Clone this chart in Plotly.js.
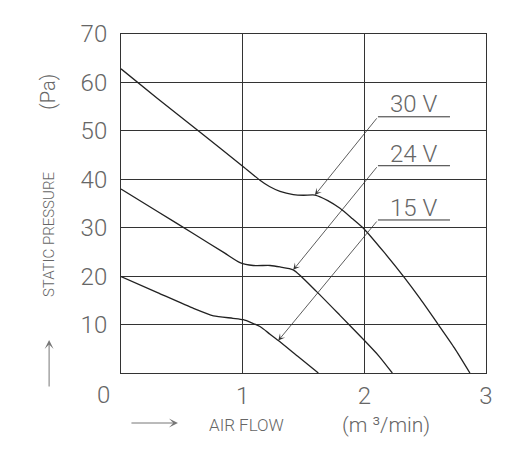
<!DOCTYPE html>
<html>
<head>
<meta charset="utf-8">
<script src="https://cdn.plot.ly/plotly-3.0.1.min.js"></script>
<style>
  html, body { margin: 0; padding: 0; background: #fff; }
  #chart { width: 532px; height: 450px; }
</style>
</head>
<body>
<div id="chart"></div>
<script>
// Fan performance curves: static pressure (Pa) against air flow (m³/min)
const flow30 = [0, 0.3, 0.635, 1.005, 1.142, 1.22, 1.307, 1.416, 1.5, 1.594, 1.7, 1.8, 1.9, 2.0, 2.16, 2.32, 2.46, 2.608, 2.74, 2.868];
const pres30 = [62.8, 56.7, 50.0, 42.6, 39.8, 38.5, 37.5, 36.85, 36.7, 36.75, 35.6, 34.0, 31.9, 29.7, 25.0, 20.0, 15.3, 10.0, 5.2, 0];

const flow24 = [0, 0.3, 0.6, 0.85, 0.978, 1.087, 1.225, 1.307, 1.416, 1.608, 1.8, 2.005, 2.12, 2.23];
const pres24 = [38.0, 33.35, 28.7, 24.8, 22.8, 22.2, 22.2, 21.9, 21.3, 16.8, 11.9, 6.6, 3.5, 0];

const flow15 = [0, 0.3, 0.6, 0.76, 0.92, 1.005, 1.142, 1.225, 1.293, 1.45, 1.622];
const pres15 = [19.9, 16.6, 13.3, 11.8, 11.3, 11.0, 9.6, 8.0, 6.7, 3.5, 0];

const xTickVals = [1, 2, 3];
const yTickVals = [10, 20, 30, 40, 50, 60, 70];

const voltLabels = ['30 V', '24 V', '15 V'];
// index of the curve point each leader arrow points at
const series = [
  { x: flow30, y: pres30, tip: 9 },
  { x: flow24, y: pres24, tip: 8 },
  { x: flow15, y: pres15, tip: 8 }
];

const lineColor = '#222';
const gridColor = '#333';
const textColor = '#666';
const thinFont = 'Roboto, "Open Sans", sans-serif';

const traces = series.map((s, i) => ({
  x: s.x, y: s.y,
  type: 'scatter', mode: 'lines',
  line: { color: lineColor, width: 1.3, shape: 'spline', smoothing: 0.6 },
  name: voltLabels[i],
  hoverinfo: 'skip'
}));

// leader geometry (data units): elbow position, underline end, label text position
const elbowX = 2.112, lineEndX = 2.704, labelX = 2.408;
const elbowY = [52.9, 42.8, 31.6];
const labelY = [55.5, 45.2, 34.1];

const annotations = [];
const shapes = [];
series.forEach((s, i) => {
  annotations.push({
    x: s.x[s.tip], y: s.y[s.tip], xref: 'x', yref: 'y',
    ax: elbowX, ay: elbowY[i], axref: 'x', ayref: 'y',
    text: '', showarrow: true, arrowhead: 3, arrowsize: 1.4, arrowwidth: 0.8,
    arrowcolor: '#333', standoff: 0, startstandoff: 0
  });
  annotations.push({
    x: labelX, y: labelY[i], xref: 'x', yref: 'y',
    text: voltLabels[i], showarrow: false, xanchor: 'center', yanchor: 'middle',
    font: { family: thinFont, size: 24, color: textColor, weight: 300 }
  });
  shapes.push({
    type: 'line', xref: 'x', yref: 'y',
    x0: elbowX, x1: lineEndX, y0: elbowY[i], y1: elbowY[i],
    line: { color: '#333', width: 1 }
  });
});

// shared origin label
annotations.push({
  x: -0.049, y: -0.065, xref: 'paper', yref: 'paper', text: '0', showarrow: false,
  xanchor: 'center', yanchor: 'middle',
  font: { family: thinFont, size: 24, color: textColor, weight: 300 }
});
// axis titles and direction arrows
annotations.push({
  x: -0.197, y: 0.407, xref: 'paper', yref: 'paper', text: 'STATIC PRESSURE', textangle: -90,
  showarrow: false, xanchor: 'center', yanchor: 'middle',
  font: { family: thinFont, size: 15, color: textColor, weight: 300 }
});
annotations.push({
  x: -0.2, y: 0.83, xref: 'paper', yref: 'paper', text: '(Pa)', textangle: -90,
  showarrow: false, xanchor: 'center', yanchor: 'middle',
  font: { family: thinFont, size: 20, color: textColor, weight: 300 }
});
annotations.push({
  x: 0.344, y: -0.152, xref: 'paper', yref: 'paper', text: 'AIR FLOW',
  showarrow: false, xanchor: 'center', yanchor: 'middle',
  font: { family: thinFont, size: 17, color: textColor, weight: 300 }
});
annotations.push({
  x: 0.7247, y: -0.153, xref: 'paper', yref: 'paper', text: '(m ³/min)',
  showarrow: false, xanchor: 'center', yanchor: 'middle',
  font: { family: thinFont, size: 21, color: textColor, weight: 300 }
});
annotations.push({
  x: -0.197, y: 0.0973, xref: 'paper', yref: 'paper', text: '',
  showarrow: true, ax: 0, ay: 48, arrowhead: 3, arrowsize: 1.5, arrowwidth: 1,
  arrowcolor: '#777', standoff: 0
});
annotations.push({
  x: 0.156, y: -0.1475, xref: 'paper', yref: 'paper', text: '',
  showarrow: true, ax: -48, ay: 0, arrowhead: 3, arrowsize: 1.5, arrowwidth: 1,
  arrowcolor: '#777', standoff: 0
});

const layout = {
  width: 532, height: 450,
  margin: { l: 121, r: 46, t: 34, b: 77 },
  paper_bgcolor: '#fff', plot_bgcolor: '#fff',
  showlegend: false,
  xaxis: {
    range: [0, 3], tickvals: xTickVals, ticktext: xTickVals.map(String),
    showgrid: true, gridcolor: gridColor, gridwidth: 1,
    showline: true, mirror: true, linecolor: gridColor, linewidth: 1,
    zeroline: false, ticks: '', ticklabelstandoff: 1,
    tickfont: { family: thinFont, size: 24, color: textColor, weight: 300 },
    fixedrange: true
  },
  yaxis: {
    range: [0, 70], tickvals: yTickVals, ticktext: yTickVals.map(String),
    showgrid: true, gridcolor: gridColor, gridwidth: 1,
    showline: true, mirror: true, linecolor: gridColor, linewidth: 1,
    zeroline: false, ticks: '', ticklabelstandoff: 8,
    tickfont: { family: thinFont, size: 24, color: textColor, weight: 300 },
    fixedrange: true
  },
  annotations: annotations,
  shapes: shapes
};

Plotly.newPlot('chart', traces, layout, { displayModeBar: false, staticPlot: true });
</script>
</body>
</html>
